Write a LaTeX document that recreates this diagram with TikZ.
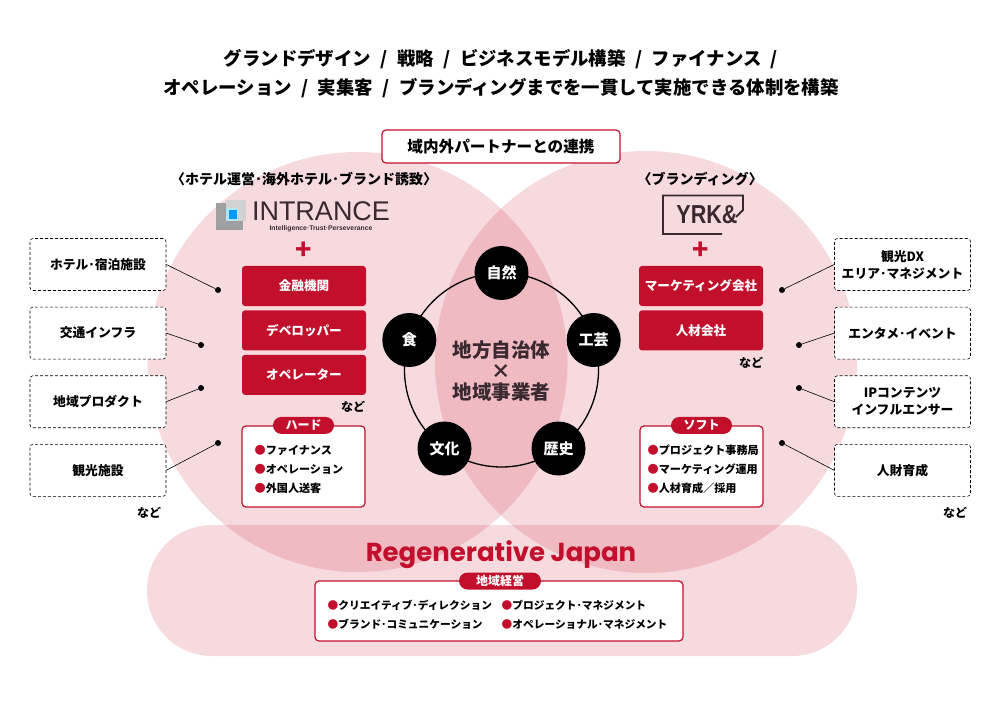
\documentclass[tikz,border=0pt]{standalone}
\usepackage{fontspec}
\setmainfont{Noto Sans CJK JP}
\newfontfamily\poppinsfont{Poppins}
\newfontfamily\logofont{Liberation Sans}
\usepackage{tikz}
\usetikzlibrary{positioning}
\definecolor{regenred}{HTML}{C20F2C}
\definecolor{softred}{HTML}{C8102E}
\definecolor{logodark}{HTML}{3A2A30}
\tikzset{
    softshape/.style={fill=softred, fill opacity=0.155},
    softcircle/.style={softshape, circle, minimum size=420pt, inner sep=0pt},
    titletext/.style={font=\bfseries\fontsize{18.4}{20}\selectfont},
    headtext/.style={font=\bfseries\fontsize{14}{16}\selectfont},
    redblock/.style={rectangle, rounded corners=3pt, fill=regenred, text=white, minimum width=124pt, minimum height=40pt, inner sep=0pt, font=\bfseries\fontsize{12.6}{14}\selectfont},
    fieldbox/.style={rectangle, draw, densely dashed, line width=0.6pt, rounded corners=3pt, fill=white, minimum width=136pt, minimum height=52pt, inner sep=0pt, align=center, font=\bfseries\fontsize{12.8}{17}\selectfont},
    whitebox/.style={rectangle, draw=regenred, line width=1.2pt, rounded corners=4pt, fill=white, inner sep=0pt},
    tagpill/.style={rectangle, rounded corners=8.5pt, fill=regenred, text=white, minimum height=17pt, inner sep=0pt, font=\bfseries\fontsize{12}{14}\selectfont},
    listtext/.style={anchor=west, align=left, inner sep=0pt, font=\bfseries\fontsize{11.1}{19}\selectfont},
    arealist/.style={listtext, font=\bfseries\fontsize{10.7}{19}\selectfont},
    motif/.style={circle, fill=black, text=white, minimum size=54pt, inner sep=0pt, font=\bfseries\fontsize{15}{18}\selectfont},
    enddot/.style={circle, fill=black, minimum size=6pt, inner sep=0pt},
    link/.style={line width=0.6pt},
    etctext/.style={font=\bfseries\fontsize{12}{14}\selectfont},
    plustext/.style={text=regenred, font=\bfseries\fontsize{27}{29}\selectfont, inner sep=0pt}
}
\newcommand{\rb}{{\color{regenred}●}}
\newcommand{\tsep}{\hspace{9.5pt}/\hspace{9.5pt}}

\begin{document}
\begin{tikzpicture}[x=1pt, y=-1pt, node distance=4pt]
    \useasboundingbox (0,0) rectangle (1000,708);

    % background shapes
    \node[softcircle] (leftcircle) at (357.5,362) {};
    \node[softcircle, minimum size=422pt] (rightcircle) at (646,362) {};
    \fill[softshape, rounded corners=65pt] (147,525) rectangle (857,656);

    % title
    \node[titletext] (titleone) at (501,59) {グランドデザイン\tsep 戦略\tsep ビジネスモデル構築\tsep ファイナンス\hspace{9.5pt}/};
    \node[titletext] (titletwo) at (501,88) {オペレーション\tsep 実集客\tsep ブランディングまでを一貫して実施できる体制を構築};

    \node[whitebox, minimum width=238pt, minimum height=33pt, font=\bfseries\fontsize{15.6}{18}\selectfont] (partner) at (501,146.5) {域内外パートナーとの連携};
    \node[headtext] (lefthead) at (304,179) {〈ホテル運営･海外ホテル･ブランド誘致〉};
    \node[headtext] (righthead) at (700,179) {〈ブランディング〉};

    % intrance logo
    \fill[gray!75] (216,203) rectangle (243,230);
    \fill[gray!35] (226,200) rectangle (246,221);
    \fill[white!70!cyan] (226,208) rectangle (238,221);
    \fill[blue!40!cyan] (229,210) rectangle (237,219);
    \node[text=logodark, anchor=base, font=\logofont\fontsize{27}{28}\selectfont, inner sep=0pt] (intrance) at (321,220.7) {INTRANCE};
    \node[text=logodark, anchor=base, font=\logofont\bfseries\fontsize{6.8}{8}\selectfont, inner sep=0pt] (tagline) at (321,230.5) {Intelligence·Trust·Perseverance};

    % yrk logo
    \draw[logodark, line width=1.8pt] (722,234) -- (663,234) -- (663,195.5) -- (743,195.5) -- (743,210) -- (736,217);
    \node[text=logodark, xscale=0.83, font=\logofont\bfseries\fontsize{26}{28}\selectfont, inner sep=0pt] (yrk) at (707,215) {YRK\&};

    \node[plustext] (leftplus) at (304,251) {+};
    \node[plustext] (rightplus) at (701,251) {+};

    % left red blocks
    \node[redblock] (finance) at (304,286) {金融機関};
    \node[redblock, below=of finance] (developer) {デベロッパー};
    \node[redblock, below=of developer] (operator) {オペレーター};
    \node[etctext] (leftetc) at (353,407) {など};

    % right red blocks
    \node[redblock] (marketing) at (701,286) {マーケティング会社};
    \node[redblock, below=of marketing] (staffing) {人材会社};
    \node[etctext] (rightetc) at (751,363) {など};

    % hard and soft
    \node[whitebox, minimum width=123pt, minimum height=81pt] (hardbox) at (303.5,466.5) {};
    \node[tagpill, minimum width=61pt] (hardtag) at (hardbox.north) {ハード};
    \node[listtext] (hardlist) at (254.5,469) {\rb ファイナンス\\\rb オペレーション\\\rb 外国人送客};
    \node[whitebox, minimum width=123pt, minimum height=81pt] (softbox) at (701.5,466.5) {};
    \node[tagpill, minimum width=61pt] (softtag) at (softbox.north) {ソフト};
    \node[listtext] (softlist) at (647.5,469) {\rb プロジェクト事務局\\\rb マーケティング運用\\\rb 人材育成／採用};

    % centre ring
    \node[circle, draw, line width=1.3pt, minimum size=194pt, inner sep=0pt] (ring) at (501.5,370) {};
    \node[motif] (nature) at (501.5,273) {自然};
    \node[motif] (craft) at (593.7,340) {工芸};
    \node[motif] (history) at (558.5,448.5) {歴史};
    \node[motif] (culture) at (444.5,448.5) {文化};
    \node[motif] (food) at (409.3,340) {食};
    \node[align=center, text=logodark, font=\bfseries\fontsize{19.5}{21}\selectfont] (centre) at (501.5,371) {地方自治体\\×\\地域事業者};

    % left fields
    \node[fieldbox] (hotel) at (98,264.5) {ホテル･宿泊施設};
    \node[fieldbox, below=16pt of hotel] (transit) {交通インフラ};
    \node[fieldbox, below=16pt of transit] (product) {地域プロダクト};
    \node[fieldbox, below=16pt of product] (sights) {観光施設};
    \node[etctext] (farleftetc) at (149,513) {など};

    % right fields
    \node[fieldbox] (dx) at (902.5,264.5) {観光DX\\エリア･マネジメント};
    \node[fieldbox, below=16pt of dx] (event) {エンタメ･イベント};
    \node[fieldbox, below=16pt of event] (content) {IPコンテンツ\\インフルエンサー};
    \node[fieldbox, below=16pt of content] (talent) {人財育成};
    \node[etctext] (farrightetc) at (955,513) {など};

    % connectors
    \node[enddot] (hoteldot) at (218,290) {};
    \node[enddot] (transitdot) at (201,345) {};
    \node[enddot] (productdot) at (201,388) {};
    \node[enddot] (sightsdot) at (218,443) {};
    \node[enddot] (dxdot) at (782,290) {};
    \node[enddot] (eventdot) at (799,345) {};
    \node[enddot] (contentdot) at (799,388) {};
    \node[enddot] (talentdot) at (782,443) {};
    \draw[link] (hotel.east) -- (hoteldot);
    \draw[link] (transit.east) -- (transitdot);
    \draw[link] (product.east) -- (productdot);
    \draw[link] (sights.east) -- (sightsdot);
    \draw[link] (dx.west) -- (dxdot);
    \draw[link] (event.west) -- (eventdot);
    \draw[link] (content.west) -- (contentdot);
    \draw[link] (talent.west) -- (talentdot);

    % regenerative japan
    \node[text=regenred, anchor=base, font=\poppinsfont\bfseries\fontsize{26}{30}\selectfont, inner sep=0pt] (regen) at (501,561.5) {Regenerative Japan};
    \node[whitebox, minimum width=368pt, minimum height=60pt] (areabox) at (499,611) {};
    \node[tagpill, minimum width=82pt] (areatag) at (500,581) {地域経営};
    \node[arealist] (arealeft) at (327.5,615) {\rb クリエイティブ･ディレクション\\\rb ブランド･コミュニケーション};
    \node[arealist] (arearight) at (501.5,615) {\rb プロジェクト･マネジメント\\\rb オペレーショナル･マネジメント};
\end{tikzpicture}
\end{document}
